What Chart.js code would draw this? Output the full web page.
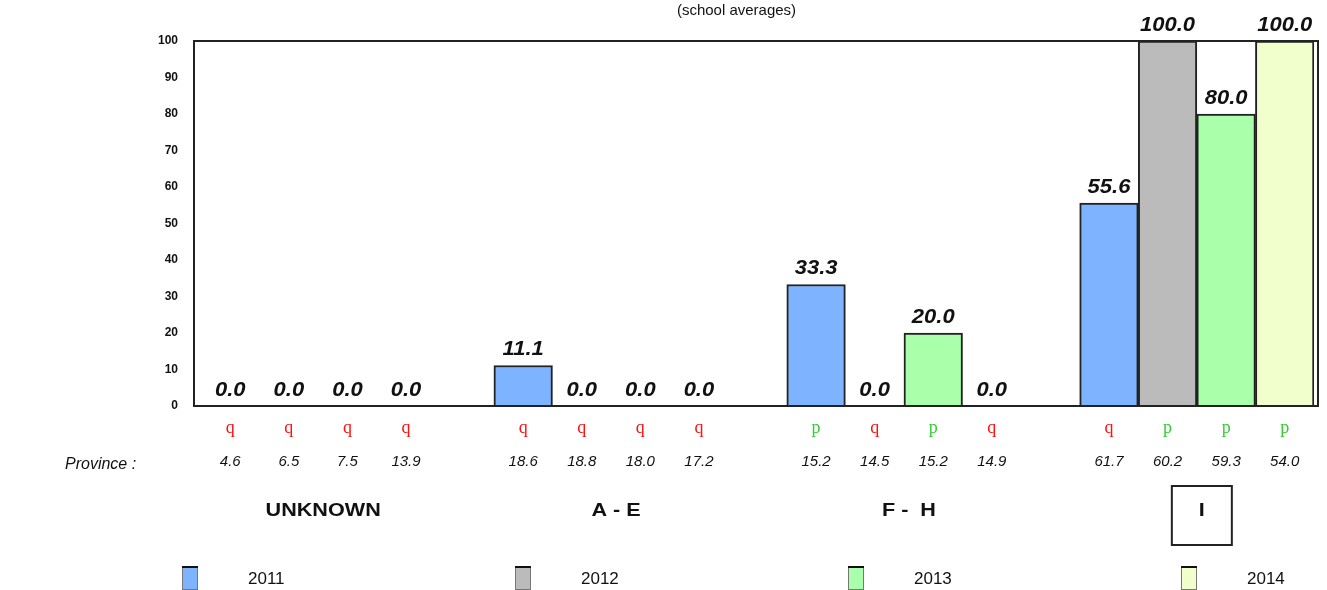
<!DOCTYPE html>
<html lang="en">
<head>
  <meta charset="UTF-8">
  <title>School averages by province</title>
  <script src="https://cdn.jsdelivr.net/npm/chart.js"></script>
  <style>
    body { margin: 0; background: #fff; }
    canvas { display: block; }
  </style>
</head>
<body>
  <canvas id="avgChart" width="1327" height="590"></canvas>

<script>
  const years = ['2011', '2012', '2013', '2014'];
  const groups = ['UNKNOWN', 'A - E', 'F -  H', 'I'];
  const selectedGroup = 'I';

  // school averages, one value per group
  const values2011 = [0.0, 11.1, 33.3, 55.6];
  const values2012 = [0.0, 0.0, 0.0, 100.0];
  const values2013 = [0.0, 0.0, 20.0, 80.0];
  const values2014 = [0.0, 0.0, 0.0, 100.0];

  // province averages and trend glyph under each bar (p = up, q = down)
  const provinceAvg = [4.6, 6.5, 7.5, 13.9, 18.6, 18.8, 18.0, 17.2, 15.2, 14.5, 15.2, 14.9, 61.7, 60.2, 59.3, 54.0];
  const trend = ['q', 'q', 'q', 'q', 'q', 'q', 'q', 'q', 'p', 'q', 'p', 'q', 'q', 'p', 'p', 'p'];

  const yearColors = ['#7eb3ff', '#bbbbbb', '#aaffaa', '#f1ffcc'];
  const series = [values2011, values2012, values2013, values2014];

  const FONT = "'Liberation Sans', Arial, sans-serif";

  // 4 bars per group plus one empty slot between groups
  const slotsPerGroup = years.length + 1;
  const slotLabels = [];
  groups.forEach((g, gi) => {
    years.forEach(y => slotLabels.push(g + ' ' + y));
    if (gi < groups.length - 1) slotLabels.push('');
  });
  const slotOf = (gi, yi) => gi * slotsPerGroup + yi;

  const datasets = years.map((y, yi) => {
    const data = slotLabels.map(() => null);
    groups.forEach((g, gi) => { data[slotOf(gi, yi)] = series[yi][gi]; });
    return {
      label: y,
      data,
      backgroundColor: yearColors[yi],
      borderColor: '#222',
      borderWidth: 2
    };
  });

  // the original text is a bit wide, so stretch it horizontally
  function wideText(ctx, text, x, y, sx) {
    ctx.save();
    ctx.translate(x, y);
    ctx.scale(sx, 1);
    ctx.fillText(text, 0, 0);
    ctx.restore();
  }

  const extras = {
    id: 'extras',
    afterDatasetsDraw(chart) {
      const { ctx, chartArea: a, scales } = chart;
      const x = scales.x;
      ctx.save();

      // plot frame
      ctx.strokeStyle = '#222';
      ctx.lineWidth = 2;
      ctx.strokeRect(a.left - 7, a.top, a.right - a.left + 11, a.bottom - a.top);

      // value labels
      ctx.fillStyle = '#111';
      ctx.font = 'italic bold 20px ' + FONT;
      ctx.textAlign = 'center';
      ctx.textBaseline = 'alphabetic';
      chart.data.datasets.forEach((ds, di) => {
        chart.getDatasetMeta(di).data.forEach((bar, i) => {
          if (ds.data[i] === null) return;
          wideText(ctx, ds.data[i].toFixed(1), bar.x, bar.y - 10, 1.1);
        });
      });

      // trend glyphs and province averages
      provinceAvg.forEach((v, k) => {
        const px = x.getPixelForValue(slotOf(Math.floor(k / years.length), k % years.length));
        ctx.font = "18px 'Liberation Serif', 'Times New Roman', serif";
        ctx.fillStyle = trend[k] === 'p' ? '#33cc33' : '#ff1111';
        ctx.fillText(trend[k], px, a.bottom + 27);
        ctx.font = 'italic 15px ' + FONT;
        ctx.fillStyle = '#111';
        ctx.fillText(v.toFixed(1), px, a.bottom + 60);
      });

      ctx.textAlign = 'left';
      ctx.font = 'italic 16px ' + FONT;
      ctx.fillText('Province :', 65, a.bottom + 63);

      // group names
      ctx.textAlign = 'center';
      ctx.font = 'bold 18px ' + FONT;
      groups.forEach((g, gi) => {
        const cx = (x.getPixelForValue(slotOf(gi, 0)) + x.getPixelForValue(slotOf(gi, years.length - 1))) / 2 + 5;
        wideText(ctx, g, cx, a.bottom + 110, 1.2);
        if (g === selectedGroup) {
          ctx.lineWidth = 2;
          ctx.strokeRect(cx - 30, a.bottom + 80, 60, 59);
        }
      });

      // title fragment
      ctx.font = '15px ' + FONT;
      ctx.fillText('(school averages)', (a.left + a.right) / 2 - 21, 15);

      // legend
      ctx.textAlign = 'left';
      ctx.textBaseline = 'middle';
      ctx.font = '17px ' + FONT;
      years.forEach((y, yi) => {
        const lx = 182 + yi * 333;
        ctx.fillStyle = yearColors[yi];
        ctx.fillRect(lx, 567, 16, 23);
        ctx.strokeStyle = '#777';
        ctx.lineWidth = 1;
        ctx.strokeRect(lx + 0.5, 567.5, 15, 22);
        ctx.fillStyle = '#111';
        ctx.fillRect(lx, 566, 16, 2);
        ctx.fillText(y, lx + 66, 579);
      });

      ctx.restore();
    }
  };

  new Chart(document.getElementById('avgChart'), {
    type: 'bar',
    data: { labels: slotLabels, datasets },
    options: {
      responsive: false,
      animation: false,
      layout: { padding: { top: 41, right: 13, bottom: 184, left: 0 } },
      datasets: { bar: { grouped: false, barPercentage: 1, categoryPercentage: 1 } },
      plugins: { legend: { display: false }, tooltip: { enabled: false } },
      scales: {
        x: { display: false },
        y: {
          min: 0,
          max: 100,
          afterFit: s => { s.width = 201; },
          grid: { display: false, drawTicks: false },
          border: { display: false },
          ticks: {
            stepSize: 10,
            padding: 23,
            color: '#111',
            font: { family: FONT, size: 12, weight: 'bold' }
          }
        }
      }
    },
    plugins: [extras]
  });
</script>
</body>
</html>
